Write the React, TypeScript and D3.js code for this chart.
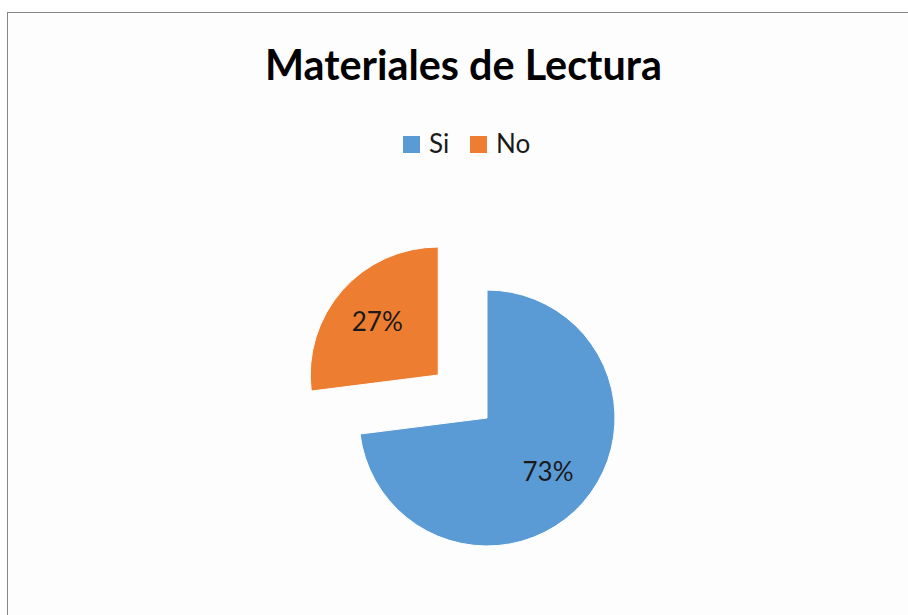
import React, { useEffect, useRef } from "react";
import * as d3 from "d3";

const categories = ["Si", "No"];
const values = [73, 27];
const colors = ["#5B9BD5", "#ED7D31"];
const explode = [0, 65]; // only "No" is pulled out

const width = 908;
const height = 615;

export default function App() {
  const ref = useRef<SVGSVGElement>(null);

  useEffect(() => {
    const svg = d3.select(ref.current);
    svg.selectAll("*").remove();

    // chart frame (right and bottom edge fall outside the picture)
    svg.append("rect").attr("width", width).attr("height", height).attr("fill", "#fff");
    svg.append("rect")
      .attr("x", 7.5).attr("y", 12.5)
      .attr("width", width + 20).attr("height", height + 20)
      .attr("fill", "#fdfdfd").attr("stroke", "#868686").attr("stroke-width", 1);

    svg.append("text")
      .attr("x", 463.5).attr("y", 80)
      .attr("text-anchor", "middle")
      .attr("font-family", "Lato, 'Open Sans', sans-serif")
      .attr("font-weight", "bold")
      .attr("font-size", 42)
      .attr("textLength", 397)
      .attr("lengthAdjust", "spacingAndGlyphs")
      .attr("fill", "#000")
      .text("Materiales de Lectura");

    // legend
    const legendX = [403, 470];
    const legend = svg.append("g");
    categories.forEach((c, i) => {
      legend.append("rect")
        .attr("x", legendX[i]).attr("y", 136)
        .attr("width", 17).attr("height", 17)
        .attr("fill", colors[i]);
      legend.append("text")
        .attr("x", legendX[i] + 26).attr("y", 153)
        .attr("font-family", "Lato, 'Open Sans', sans-serif")
        .attr("font-size", 26)
        .attr("fill", "#1a1a1a")
        .text(c);
    });

    const r = 128;
    const cx = 487, cy = 418;
    const pie = d3.pie<number>().sort(null).value(d => d);
    const arcs = pie(values);
    const arc = d3.arc<d3.PieArcDatum<number>>().innerRadius(0).outerRadius(r);
    const labelArc = d3.arc<d3.PieArcDatum<number>>().innerRadius(r * 0.635).outerRadius(r * 0.635);
    const total = d3.sum(values);

    const g = svg.append("g").attr("transform", `translate(${cx},${cy})`);
    const slice = g.selectAll("g.slice").data(arcs).join("g")
      .attr("class", "slice")
      .attr("transform", (d, i) => {
        const mid = (d.startAngle + d.endAngle) / 2;
        return `translate(${explode[i] * Math.sin(mid)},${-explode[i] * Math.cos(mid)})`;
      });

    slice.append("path")
      .attr("d", arc)
      .attr("fill", (d, i) => colors[i])
      .attr("stroke", "#fff")
      .attr("stroke-width", 1);

    slice.append("text")
      .attr("transform", d => `translate(${labelArc.centroid(d)})`)
      .attr("text-anchor", "middle")
      .attr("dy", "0.36em")
      .attr("font-family", "Lato, 'Open Sans', sans-serif")
      .attr("font-size", 26)
      .attr("fill", "#1a1a1a")
      .text(d => `${Math.round((d.value / total) * 100)}%`);
  }, []);

  return (
    <svg ref={ref} width={width} height={height}
      style={{ position: "absolute", left: 0, top: 0 }} />
  );
}
